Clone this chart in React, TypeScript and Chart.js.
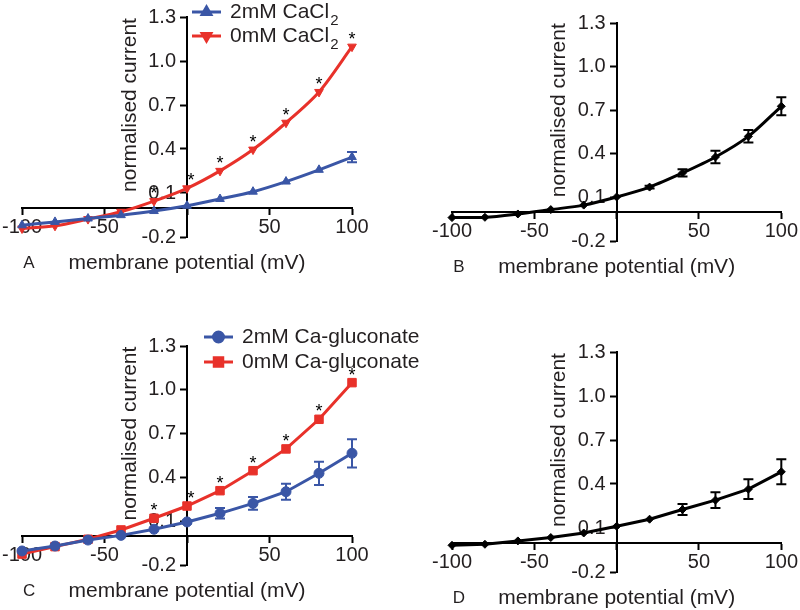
import { useEffect, useRef } from 'react';
import { Chart, registerables } from 'chart.js';
import { drawPoint } from 'chart.js/helpers';

Chart.register(...registerables);

// ---------- data ----------
const voltages = [-100, -80, -60, -40, -20, 0, 20, 40, 60, 80, 100];
const xTickValues = [-100, -50, 0, 50, 100];
const yTickValues = [-0.2, 0.1, 0.4, 0.7, 1.0, 1.3];

const cacl2With = [-0.12, -0.097, -0.074, -0.051, -0.023, 0.013, 0.059, 0.109, 0.178, 0.258, 0.345];
const cacl2WithErr = [0, 0, 0, 0, 0, 0, 0, 0, 0, 0, 0.035];
const cacl2Without = [-0.142, -0.124, -0.078, -0.028, 0.045, 0.132, 0.251, 0.396, 0.579, 0.789, 1.098];
const cacl2Stars = [-20, 0, 20, 40, 60, 80, 100];

const cacl2Ratio = [-0.039, -0.037, -0.014, 0.016, 0.047, 0.103, 0.171, 0.268, 0.378, 0.52, 0.727];
const cacl2RatioErr = [0, 0, 0, 0, 0, 0, 0.01, 0.025, 0.043, 0.043, 0.062];

const glucWith = [-0.104, -0.07, -0.029, 0.003, 0.045, 0.095, 0.154, 0.222, 0.302, 0.428, 0.565];
const glucWithErr = [0, 0, 0, 0, 0, 0.01, 0.036, 0.043, 0.055, 0.08, 0.097];
const glucWithout = [-0.125, -0.074, -0.024, 0.04, 0.12, 0.204, 0.309, 0.446, 0.595, 0.798, 1.049];
const glucStars = [-20, 0, 20, 40, 60, 80, 100];

const glucRatio = [-0.018, -0.011, 0.012, 0.035, 0.066, 0.112, 0.16, 0.226, 0.29, 0.365, 0.483];
const glucRatioErr = [0, 0, 0, 0, 0, 0, 0, 0.037, 0.053, 0.068, 0.085];

// ---------- styles ----------
const BLUE = '#3a56a6';
const RED = '#e8312a';
const BLACK = '#000000';
const TEXT = '#231f20';
const FONT = '"Liberation Sans", Arial, Helvetica, sans-serif';

type Series = {
  label: string;
  values: number[];
  errors?: number[];
  color: string;
  pointStyle: string;
  radius: number;
  rotation?: number;
};

type PanelProps = {
  left: number;
  top: number;
  width: number;
  height: number;
  padding: { left: number; right: number; top: number; bottom: number };
  series: Series[];
  tension: number;
  letter: string;
  stars?: number[];
  legend?: { x: number; y: number; gap: number };
};

function makePanelPlugin(p: PanelProps) {
  return {
    id: 'panelExtras',
    beforeDraw(chart: any) {
      // keep y tick labels clear of the tick marks (object-positioned axis ignores padding)
      const ys = chart.scales.y;
      const items = ys.getLabelItems(chart.chartArea);
      items.forEach((it: any) => {
        if (it.__shifted) return;
        it.options.translation[0] -= 11;
        it.__shifted = true;
      });
    },
    beforeDatasetsDraw(chart: any) {
      const ctx = chart.ctx;
      const yScale = chart.scales.y;
      chart.data.datasets.forEach((ds: any, i: number) => {
        const errs: number[] | undefined = ds.errors;
        if (!errs) return;
        const meta = chart.getDatasetMeta(i);
        ctx.save();
        ctx.strokeStyle = ds.borderColor;
        ctx.lineWidth = 2;
        errs.forEach((e, j) => {
          if (!e) return;
          const v = ds.data[j].y;
          const x = meta.data[j].x;
          const y1 = yScale.getPixelForValue(v + e);
          const y2 = yScale.getPixelForValue(v - e);
          ctx.beginPath();
          ctx.moveTo(x, y1);
          ctx.lineTo(x, y2);
          ctx.moveTo(x - 5, y1);
          ctx.lineTo(x + 5, y1);
          ctx.moveTo(x - 5, y2);
          ctx.lineTo(x + 5, y2);
          ctx.stroke();
        });
        ctx.restore();
      });
    },
    afterDraw(chart: any) {
      const ctx = chart.ctx;
      const xScale = chart.scales.x;
      const yScale = chart.scales.y;
      const area = chart.chartArea;
      const x0 = xScale.getPixelForValue(0);
      ctx.save();
      ctx.fillStyle = TEXT;
      // y title
      ctx.save();
      ctx.translate(x0 - 57, yScale.getPixelForValue(0.7));
      ctx.rotate(-Math.PI / 2);
      ctx.font = `21px ${FONT}`;
      ctx.textAlign = 'center';
      ctx.textBaseline = 'middle';
      ctx.fillText('normalised current', 0, 0);
      ctx.restore();
      // x title
      ctx.font = `21px ${FONT}`;
      ctx.textAlign = 'center';
      ctx.textBaseline = 'middle';
      const ty = area.bottom + 26;
      ctx.fillText('membrane potential (mV)', x0, ty);
      // letter
      ctx.font = `17px ${FONT}`;
      ctx.fillText(p.letter, area.left + 7, ty);

      // stars
      if (p.stars) {
        const meta = chart.getDatasetMeta(chart.data.datasets.length - 1);
        ctx.font = `18px ${FONT}`;
        ctx.fillStyle = '#000';
        ctx.textBaseline = 'alphabetic';
        p.stars.forEach((v) => {
          const j = voltages.indexOf(v);
          if (j < 0) return;
          const pt = meta.data[j];
          const dx = v === 0 ? 4 : 0;
          ctx.fillText('*', pt.x + dx, pt.y - 2);
        });
      }

      // legend
      if (p.legend) {
        const lg = p.legend;
        chart.data.datasets.forEach((ds: any, i: number) => {
          const y = lg.y + i * lg.gap;
          ctx.strokeStyle = ds.borderColor;
          ctx.lineWidth = 3;
          ctx.beginPath();
          ctx.moveTo(lg.x, y);
          ctx.lineTo(lg.x + 29, y);
          ctx.stroke();
          ctx.fillStyle = ds.borderColor;
          drawPoint(ctx, {
            pointStyle: ds.pointStyle,
            radius: ds.pointRadius,
            rotation: ds.pointRotation || 0,
            borderWidth: 1,
          } as any, lg.x + 14.5, y);
          ctx.fillStyle = TEXT;
          ctx.textAlign = 'left';
          ctx.textBaseline = 'middle';
          ctx.font = `21px ${FONT}`;
          const label: string = ds.label;
          const sub = label.endsWith('₂');
          const main = sub ? label.slice(0, -1) : label;
          const tx = lg.x + 38;
          ctx.fillText(main, tx, y);
          if (sub) {
            const w = ctx.measureText(main).width;
            ctx.font = `15px ${FONT}`;
            ctx.fillText('2', tx + w + 1, y + 9);
          }
        });
      }
      ctx.restore();
    },
  };
}

function Panel(p: PanelProps) {
  const ref = useRef<HTMLCanvasElement | null>(null);
  useEffect(() => {
    if (!ref.current) return;
    const tickFont = { family: FONT, size: 20 };
    const chart = new Chart(ref.current, {
      type: 'line',
      data: {
        datasets: p.series.map((s) => ({
          label: s.label,
          data: voltages.map((v, i) => ({ x: v, y: s.values[i] })),
          errors: s.errors,
          borderColor: s.color,
          backgroundColor: s.color,
          pointBackgroundColor: s.color,
          pointBorderColor: s.color,
          borderWidth: 3,
          pointStyle: s.pointStyle,
          pointRadius: s.radius,
          pointRotation: s.rotation || 0,
          pointBorderWidth: 1,
          tension: p.tension,
          clip: false,
        })) as any,
      },
      options: {
        animation: false,
        responsive: false,
        maintainAspectRatio: false,
        layout: { padding: p.padding },
        plugins: { legend: { display: false }, tooltip: { enabled: false } },
        scales: {
          x: {
            type: 'linear',
            axis: 'x',
            min: -100,
            max: 100,
            position: { y: 0 } as any,
            afterFit: (s: any) => { s.height = 0; },
            afterBuildTicks: (s: any) => { s.ticks = xTickValues.map((v) => ({ value: v })); },
            ticks: {
              callback: (v: any) => (Number(v) === 0 ? '' : String(v)),
              font: tickFont,
              color: TEXT,
              padding: 2,
              maxRotation: 0,
              autoSkip: false,
            },
            grid: { drawOnChartArea: false, drawTicks: true, tickLength: 6, tickColor: '#000', tickWidth: 2 },
            border: { display: true, color: '#000', width: 2 },
          },
          y: {
            type: 'linear',
            axis: 'y',
            min: -0.2,
            max: 1.3,
            position: { x: 0 } as any,
            afterFit: (s: any) => { s.width = 0; },
            afterBuildTicks: (s: any) => { s.ticks = yTickValues.map((v) => ({ value: v })); },
            ticks: {
              callback: (v: any) => Number(v).toFixed(1),
              font: tickFont,
              color: TEXT,
              padding: 3,
              autoSkip: false,
            },
            grid: { drawOnChartArea: false, drawTicks: true, tickLength: 6, tickColor: '#000', tickWidth: 2 },
            border: { display: true, color: '#000', width: 2 },
          },
        } as any,
      },
      plugins: [makePanelPlugin(p)],
    });
    return () => chart.destroy();
  }, []);
  return (
    <canvas
      ref={ref}
      width={p.width}
      height={p.height}
      style={{ position: 'absolute', left: p.left, top: p.top, width: p.width, height: p.height, display: 'block' }}
    />
  );
}

export default function App() {
  return (
    <div style={{ position: 'absolute', left: 0, top: 0, width: 800, height: 610, background: '#fff', overflow: 'hidden' }}>
      <Panel
        left={0}
        top={0}
        width={400}
        height={300}
        padding={{ left: 21, right: 48, top: 17, bottom: 63 }}
        tension={0.3}
        letter="A"
        stars={cacl2Stars}
        legend={{ x: 192, y: 12, gap: 24 }}
        series={[
          { label: '2mM CaCl₂', values: cacl2With, errors: cacl2WithErr, color: BLUE, pointStyle: 'triangle', radius: 5 },
          { label: '0mM CaCl₂', values: cacl2Without, color: RED, pointStyle: 'triangle', radius: 5, rotation: 180 },
        ]}
      />
      <Panel
        left={400}
        top={0}
        width={400}
        height={300}
        padding={{ left: 52, right: 17, top: 23, bottom: 59 }}
        tension={0.3}
        letter="B"
        series={[
          { label: 'ratio', values: cacl2Ratio, errors: cacl2RatioErr, color: BLACK, pointStyle: 'rectRot', radius: 4 },
        ]}
      />
      <Panel
        left={400}
        top={300}
        width={400}
        height={310}
        padding={{ left: 52, right: 17, top: 52, bottom: 38 }}
        tension={0}
        letter="D"
        series={[
          { label: 'ratio', values: glucRatio, errors: glucRatioErr, color: BLACK, pointStyle: 'rectRot', radius: 4 },
        ]}
      />
      <Panel
        left={0}
        top={300}
        width={440}
        height={310}
        padding={{ left: 22, right: 88, top: 46, bottom: 45 }}
        tension={0}
        letter="C"
        stars={glucStars}
        legend={{ x: 204, y: 37, gap: 25 }}
        series={[
          { label: '2mM Ca-gluconate', values: glucWith, errors: glucWithErr, color: BLUE, pointStyle: 'circle', radius: 5 },
          { label: '0mM Ca-gluconate', values: glucWithout, color: RED, pointStyle: 'rect', radius: 6 },
        ]}
      />
    </div>
  );
}
